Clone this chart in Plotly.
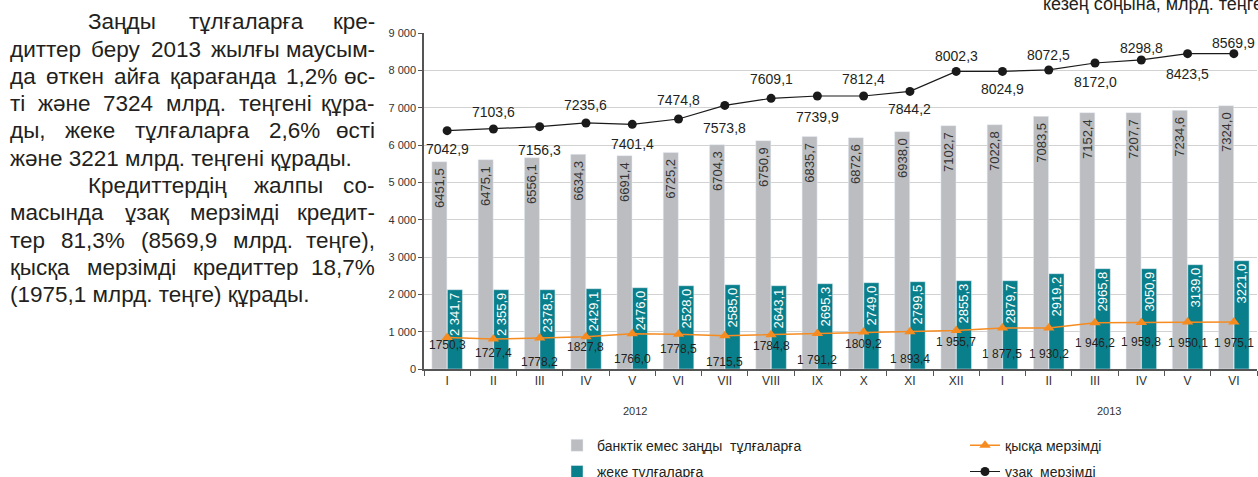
import plotly.graph_objects as go

# months of 2012 (I..XII) and 2013 (I..VI)
months = ["I", "II", "III", "IV", "V", "VI", "VII", "VIII", "IX", "X", "XI", "XII",
          "I", "II", "III", "IV", "V", "VI"]
years = ["2012", "2013"]

# bar heights as drawn in the picture (mlrd tenge)
legal = [5553, 5607, 5660, 5749, 5714, 5802, 6009, 6116, 6231, 6196, 6357, 6518,
         6544, 6767, 6866, 6866, 6928, 7053]
persons = [2124, 2124, 2124, 2151, 2178, 2231, 2258, 2231, 2285, 2312, 2339, 2365,
           2365, 2553, 2687, 2687, 2794, 2901]
short_term = [846, 804, 830, 865, 946, 932, 892, 919, 954, 991, 999, 1034,
              1098, 1098, 1240, 1248, 1259, 1259]
long_term = [6385, 6429, 6491, 6590, 6553, 6697, 7061, 7249, 7313, 7313, 7436, 7972,
             7972, 8010, 8197, 8278, 8446, 8446]

# printed data labels
legal_lbl = ["6451,5", "6475,1", "6556,1", "6634,3", "6691,4", "6725,2", "6704,3", "6750,9",
             "6835,7", "6872,6", "6938,0", "7102,7", "7022,8", "7083,5", "7152,4", "7207,7",
             "7234,6", "7324,0"]
persons_lbl = ["2 341,7", "2 355,9", "2378,5", "2429,1", "2476,0", "2528,0", "2585,0", "2643,1",
               "2695,3", "2749,0", "2799,5", "2855,3", "2879,7", "2919,2", "2965,8", "3050,9",
               "3139,0", "3221,0"]
short_lbl = ["1750,3", "1727,4", "1778,2", "1827,8", "1766,0", "1778,5", "1715,5", "1784,8",
             "1 791,2", "1809,2", "1 893,4", "1 955,7", "1 877,5", "1 930,2", "1 946,2",
             "1 959,8", "1 950,1", "1 975,1"]
long_lbl = ["7042,9", "7103,6", "7156,3", "7235,6", "7401,4", "7474,8", "7573,8", "7609,1",
            "7739,9", "7812,4", "7844,2", "8002,3", "8024,9", "8072,5", "8172,0", "8298,8",
            "8423,5", "8569,9"]

names = ["банктік емес заңды  тұлғаларға", "жеке тұлғаларға", "қысқа мерзімді", "ұзақ  мерзімді"]
unit_title = "кезең соңына, млрд. теңге"

paragraph = [
    "Заңды тұлғаларға кре-",
    "диттер беру 2013 жылғы маусым-",
    "да өткен айға қарағанда 1,2% өс-",
    "ті және 7324 млрд. теңгені құра-",
    "ды, жеке тұлғаларға 2,6% өсті",
    "және 3221 млрд. теңгені құрады.",
    "Кредиттердің жалпы со-",
    "масында ұзақ мерзімді кредит-",
    "тер 81,3% (8569,9 млрд. теңге),",
    "қысқа мерзімді кредиттер 18,7%",
    "(1975,1 млрд. теңге) құрады.",
]

FONT = "Liberation Sans, Arial, Noto Sans, sans-serif"
GRAY = "#bcbdc0"
TEAL = "#0a7f8c"
ORANGE = "#f68b1f"
DARK = "#231f20"

# plot area in page pixels
L, T, PW, PH = 424, 33.3, 833, 336
W_PAGE, H_PAGE = 1258, 477


def fx(px):
    return (px - L) / PW


def fy(py):
    return (T + PH - py) / PH


x = list(range(len(months)))

fig = go.Figure()

fig.add_trace(go.Bar(
    x=x, y=legal, name=names[0], marker_color=GRAY,
    text=[t + "\u00a0" for t in legal_lbl], textposition="inside", textangle=-90,
    insidetextanchor="end", constraintext="none",
    textfont=dict(size=13, color="#333333", family=FONT),
    legend="legend", legendgroup="a",
))
fig.add_trace(go.Bar(
    x=x, y=persons, name=names[1], marker_color=TEAL,
    text=persons_lbl, textposition="inside", textangle=-90,
    insidetextanchor="end", constraintext="none",
    textfont=dict(size=13, color="white", family=FONT),
    legend="legend", legendgroup="b",
))
fig.add_trace(go.Scatter(
    x=x, y=short_term, name=names[2], mode="lines+markers",
    line=dict(color=ORANGE, width=1.5),
    marker=dict(symbol="triangle-up", size=10, color=ORANGE),
    legend="legend2", legendgroup="c",
))
fig.add_trace(go.Scatter(
    x=x, y=long_term, name=names[3], mode="lines+markers",
    line=dict(color="#1a1a1a", width=1.2),
    marker=dict(symbol="circle", size=9, color="#1a1a1a"),
    legend="legend2", legendgroup="d",
))

annotations = []

# line labels (alternating above / below)
long_shift = [-18, 17, -23, 18, -20, 19, -23, 19, -21, 17, -18, 15, -18, 15, -19, 12, -20, 11]
for i, (v, t) in enumerate(zip(long_term, long_lbl)):
    annotations.append(dict(x=i, y=v, text=t, showarrow=False, yshift=long_shift[i],
                            font=dict(size=14, color=DARK, family=FONT)))

short_shift = [-8, -14, -24, -10, -25, -15, -26, -11, -27, -12, -27, -12, -26, -26, -20, -20, -21, -21]
for i, (v, t) in enumerate(zip(short_term, short_lbl)):
    annotations.append(dict(x=i, y=v, text=t, showarrow=False, yshift=short_shift[i],
                            font=dict(size=12, color=DARK, family=FONT)))

# year labels
for xp, yr in zip([4.05, 14.3], years):
    annotations.append(dict(x=xp, xref="x", y=fy(411), yref="paper", yanchor="middle",
                            text=yr, showarrow=False,
                            font=dict(size=11, color="#333333", family=FONT)))

# unit title (top right, cut by page edge)
annotations.append(dict(x=fx(1265), y=fy(4), xref="paper", yref="paper", xanchor="right",
                        yanchor="middle", text=unit_title, showarrow=False,
                        font=dict(size=18, color=DARK, family=FONT)))

# left paragraph, justified by hand
CW = {' ': .278, ',': .278, '.': .278, '%': .889, '(': .333, ')': .333, '-': .333,
      'а': .556, 'б': .573, 'в': .531, 'г': .365, 'д': .583, 'е': .556, 'ж': .669, 'з': .458,
      'и': .559, 'й': .559, 'к': .438, 'л': .583, 'м': .688, 'н': .552, 'о': .556, 'п': .542,
      'р': .556, 'с': .5, 'т': .458, 'у': .5, 'ы': .719, 'ь': .521, 'ә': .556, 'ғ': .365,
      'қ': .453, 'ң': .573, 'ө': .556, 'ұ': .5, 'ү': .5, 'і': .222, 'З': .594, 'К': .583}


def tw(s, fs):
    return sum(CW.get(c, .556) for c in s) * fs


FS = 22.5
left, right = 8, 377
indent = {0: 86, 6: 86}
last_lines = {5, 10}
for n, line in enumerate(paragraph):
    py = 22 + n * 27.3
    x0 = indent.get(n, left)
    if n in last_lines:
        annotations.append(dict(x=fx(x0), y=fy(py), xref="paper", yref="paper", xanchor="left",
                                yanchor="middle", text=line, showarrow=False,
                                font=dict(size=FS, color=DARK, family=FONT)))
        continue
    words = line.split(" ")
    widths = [tw(w, FS) for w in words]
    gap = (right - x0 - sum(widths)) / (len(words) - 1)
    cx = x0
    for k, (w, wd) in enumerate(zip(words, widths)):
        if k == len(words) - 1:
            annotations.append(dict(x=fx(right), y=fy(py), xref="paper", yref="paper",
                                    xanchor="right", yanchor="middle", text=w, showarrow=False,
                                    font=dict(size=FS, color=DARK, family=FONT)))
        else:
            annotations.append(dict(x=fx(cx), y=fy(py), xref="paper", yref="paper",
                                    xanchor="left", yanchor="middle", text=w, showarrow=False,
                                    font=dict(size=FS, color=DARK, family=FONT)))
        cx += wd + gap

fig.update_layout(
    width=W_PAGE, height=H_PAGE,
    margin=dict(l=L, r=W_PAGE - L - PW, t=T, b=H_PAGE - T - PH, autoexpand=False),
    paper_bgcolor="white", plot_bgcolor="white",
    font=dict(family=FONT, color="#333333"),
    separators=", ",
    barmode="group", bargap=0.33, bargroupgap=0.03,
    uniformtext=dict(minsize=13, mode="show"),
    xaxis=dict(
        range=[-0.5, 17.5], tickvals=x, ticktext=months, ticks="",
        tickfont=dict(size=12, color="#333333"),
        showline=True, linecolor="#555555", linewidth=1.5, showgrid=False, zeroline=False,
        minor=dict(tickvals=[i - 0.5 for i in range(len(months) + 1)], ticks="outside",
                   ticklen=5, tickcolor="#555555", showgrid=False),
    ),
    yaxis=dict(
        range=[0, 9000], dtick=1000, tickformat=",d",
        ticks="outside", ticklen=4, tickcolor="#555555",
        tickfont=dict(size=11, color="#333333"),
        showline=True, linecolor="#555555", linewidth=1.5,
        showgrid=True, gridcolor="#d2d2d2", gridwidth=1, zeroline=False,
    ),
    legend=dict(x=fx(557), y=fy(430), xanchor="left", yanchor="top", orientation="v",
                traceorder="grouped", tracegroupgap=5, bgcolor="rgba(0,0,0,0)",
                font=dict(size=14, color=DARK, family=FONT)),
    legend2=dict(x=fx(965), y=fy(430), xanchor="left", yanchor="top", orientation="v",
                 traceorder="grouped", tracegroupgap=5, bgcolor="rgba(0,0,0,0)",
                 font=dict(size=14, color=DARK, family=FONT)),
    annotations=annotations,
    showlegend=True,
)

fig.write_html("out.html", config={"displayModeBar": False},
               post_script="document.body.style.margin='0';")
